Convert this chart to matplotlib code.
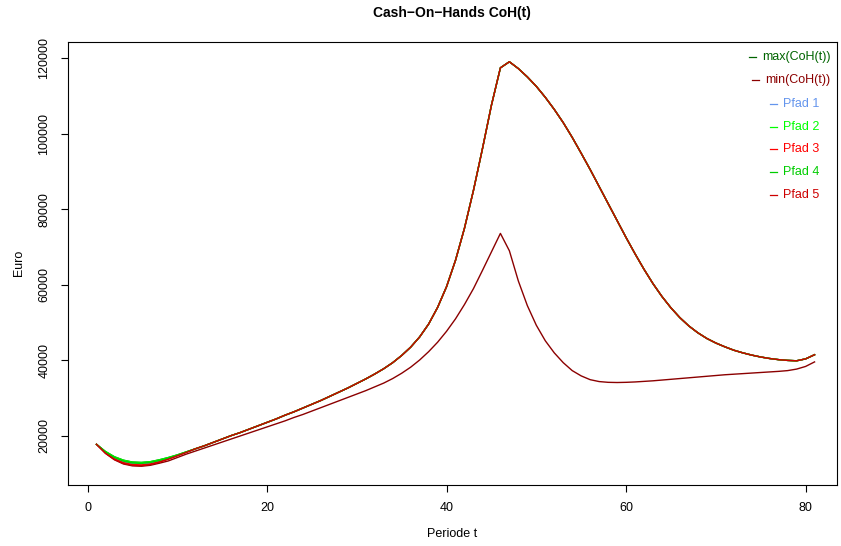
import matplotlib
matplotlib.use("Agg")
import matplotlib.pyplot as plt

plt.rcParams["font.family"] = ["Liberation Sans", "DejaVu Sans"]

# Periods 1..81
periods = list(range(1, 82))

# Upper envelope of cash-on-hands
coh_max = [
    17800, 15900, 14500, 13600, 13100, 13000, 13200, 13700, 14300, 15000,
    15800, 16600, 17400, 18300, 19200, 20100, 20900, 21800, 22700, 23600,
    24500, 25500, 26400, 27400, 28400, 29400, 30500, 31600, 32700, 33900,
    35100, 36400, 37800, 39400, 41300, 43500, 46200, 49600, 54000, 59500,
    66500, 75000, 85000, 96000, 107500, 117400, 119000, 117200, 115000, 112500,
    109600, 106400, 102900, 99000, 94800, 90500, 86000, 81500, 77000, 72500,
    68200, 64100, 60300, 56900, 53900, 51300, 49100, 47300, 45800, 44600,
    43600, 42700, 42000, 41400, 40900, 40500, 40200, 40000, 39900, 40400,
    41500,
]

# Lower envelope of cash-on-hands
coh_min = [
    17800, 15400, 13700, 12600, 12100, 12000, 12250, 12800, 13400, 14300,
    15200, 16000, 16800, 17600, 18400, 19200, 20000, 20800, 21600, 22400,
    23200, 24000, 24900, 25700, 26600, 27500, 28400, 29300, 30200, 31100,
    32000, 33000, 34000, 35200, 36600, 38200, 40100, 42300, 44800, 47700,
    51000, 54800, 59000, 63800, 68700, 73600, 69000, 61000, 54500, 49300,
    45200, 42000, 39400, 37300, 35900, 34900, 34400, 34200, 34150, 34200,
    34300, 34450, 34600, 34800, 35000, 35200, 35400, 35600, 35800, 36000,
    36200, 36350, 36500, 36650, 36800, 36950, 37100, 37300, 37700, 38400,
    39600,
]

# First periods of each simulated path; afterwards every path runs on coh_max
pfad_1_start = [17800, 15650, 14150, 13150, 12650, 12550, 12800, 13350, 14050, 14850, 15700]
pfad_2_start = [17800, 15900, 14500, 13600, 13100, 13000, 13200, 13700, 14300, 15000, 15800]
pfad_3_start = [17800, 15550, 13950, 12950, 12450, 12350, 12600, 13200, 13950, 14800, 15700]
pfad_4_start = [17800, 15750, 14300, 13350, 12850, 12750, 13000, 13500, 14150, 14900, 15750]
pfad_5_start = [17800, 15450, 13800, 12750, 12250, 12150, 12450, 13050, 13850, 14750, 15650]

def full_path(start):
    return start + coh_max[len(start):]

series = [
    ("max(CoH(t))", coh_max, "#006400"),
    ("min(CoH(t))", coh_min, "#8B0000"),
    ("Pfad 1", full_path(pfad_1_start), "#6495ED"),
    ("Pfad 2", full_path(pfad_2_start), "#00FF00"),
    ("Pfad 3", full_path(pfad_3_start), "#FF0000"),
    ("Pfad 4", full_path(pfad_4_start), "#00CD00"),
    ("Pfad 5", full_path(pfad_5_start), "#CD0000"),
]

W, H = 841, 546
fig = plt.figure(figsize=(W / 100, H / 100), dpi=100)
ax = fig.add_axes([67.5 / W, 1 - 485 / H, (837 - 67.5) / W, (485 - 41.7) / H])

for name, vals, col in series:
    ax.plot(periods, vals, color=col, lw=1.0)

ax.set_xlim(-2.23, 83.5)
ax.set_ylim(7037, 124312)
ax.set_xticks([0, 20, 40, 60, 80])
ax.set_yticks([20000, 40000, 60000, 80000, 100000, 120000])
ax.tick_params(axis="both", direction="out", length=5.2, width=0.8,
               labelsize=9, colors="black")
ax.tick_params(axis="x", pad=7)
ax.tick_params(axis="y", pad=7)
for lab in ax.get_yticklabels():
    lab.set_rotation(90)
    lab.set_va("center")
for sp in ax.spines.values():
    sp.set_linewidth(0.8)

ax.set_xlabel("Periode t", fontsize=9, labelpad=10)
ax.set_ylabel("Euro", fontsize=9, labelpad=10)
fig.text(452 / W, 1 - 13 / H, "Cash\u2212On\u2212Hands CoH(t)", ha="center", va="center",
         fontsize=10, fontweight="bold")

# Legend: short coloured dash followed by coloured label, no frame
legend_x = [762, 765, 783, 783, 783, 783, 783]
legend_y = [57, 80, 104, 127, 149, 172, 195]
for (name, vals, col), lx, ly in zip(series, legend_x, legend_y):
    yf = 1 - ly / H
    fig.text(lx / W, yf, name, color=col, fontsize=9, ha="left", va="center")
    fig.add_artist(plt.Line2D([(lx - 13) / W, (lx - 6) / W], [yf, yf],
                              color=col, lw=0.9, transform=fig.transFigure))

fig.savefig("out.png", dpi=100)
